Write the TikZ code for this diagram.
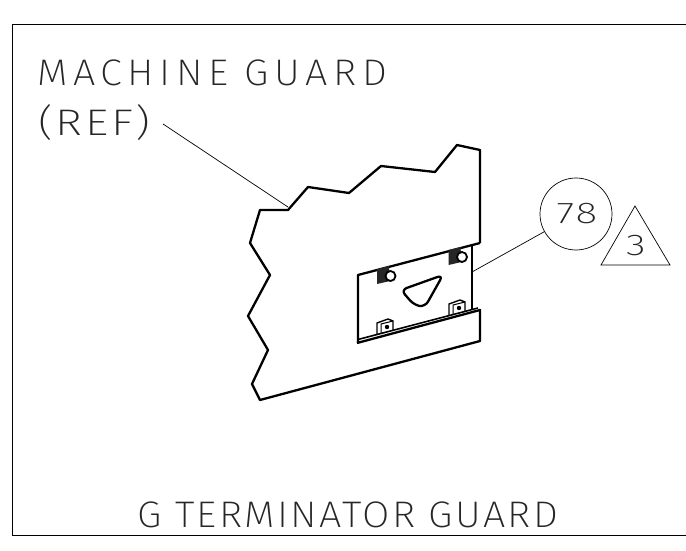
\documentclass[tikz,border=0pt]{standalone}
\usepackage{fontspec}
\newfontfamily\cadfont[LetterSpace=6]{Fira Sans ExtraLight}
\newfontfamily\cadwidefont[LetterSpace=14]{Fira Sans ExtraLight}
\usetikzlibrary{positioning}
\tikzset{
	outline/.style={line width=2.3pt,line join=round},
	thin line/.style={line width=0.7pt},
	cadtext/.style={font=\cadfont\fontsize{37}{37}\selectfont,text=black!85,inner sep=0pt,anchor=base west},
	smalltext/.style={font=\cadfont\fontsize{30}{30}\selectfont,text=black!85,inner sep=0pt,xscale=1.35}
}
\begin{document}
\begin{tikzpicture}[x=1pt,y=-1pt]
	\useasboundingbox (0,0) rectangle (686,551);
	\draw[line width=0.9pt] (686,24) -- (12.5,24) -- (12.5,535) -- (686,535);
	\node[cadtext,font=\cadwidefont\fontsize{37}{37}\selectfont,xscale=1.07] (title) at (37,86) {MACHINE GUARD};
	\node[cadtext,xscale=1.24] (ref) at (38,135.5) {(REF)};
	\node[cadtext,xscale=1.07] (caption) at (137,527) {G TERMINATOR GUARD};
	\node[draw,circle,thin line,minimum size=72pt,inner sep=0pt] (balloon) at (576,214) {};
	\node[smalltext] (number) at (577,214) {78};
	\node[smalltext] (rev) at (636,246) {3};
	% guard
	\draw[outline] (480,243) -- (480,150) -- (457,145) -- (435,172) -- (381,166) -- (349,193) -- (308,187) -- (288,210) -- (260,210) -- (250,243) -- (270,275) -- (248,316) -- (268,350) -- (252,384) -- (260,400) -- (480,341) -- (480,310) -- (357,343);
	\draw[outline] (480,243) -- (358,275) -- (358,343);
	\draw[line width=1.6pt] (358,339.5) -- (478,308);
	\draw[outline] (472,245) -- (472,309);
	% slot
	\draw[outline,rounded corners=6pt] (401,290) -- (443,275) -- (425,307) -- (414,305) -- cycle;
	% bolts
	\foreach \bx/\by in {385/275,456.5/256}{
		\fill[black!85] (\bx-8,\by-6) -- (\bx+4,\by-9) -- (\bx+5,\by+6) -- (\bx-8,\by+9) -- cycle;
		\draw[line width=1.8pt,fill=white] (\bx+5.5,\by+1) circle (5);
	}
	% clips
	\foreach \cx/\cy in {386/327,458/308}{
		\draw[line width=1.4pt] (\cx-9,\cy+7.5) -- (\cx-9,\cy-4) -- (\cx+2,\cy-8) -- (\cx+7,\cy-6) -- (\cx+7,\cy+3.3);
		\draw[line width=1pt] (\cx-5,\cy+6.5) -- (\cx-5,\cy-3) -- (\cx+7,\cy-6);
		\fill (\cx+1,\cy) circle (2.2);
	}
	% leaders
	\coordinate (guardpoint) at (288,207);
	\coordinate (platepoint) at (472,272);
	\coordinate (refstart) at (163,124);
	\draw[thin line] (refstart) -- (guardpoint);
	\draw[thin line] (platepoint) -- (balloon);
	\draw[thin line,line join=miter] (635,206) -- (670,265) -- (601,265) -- cycle;
\end{tikzpicture}
\end{document}
